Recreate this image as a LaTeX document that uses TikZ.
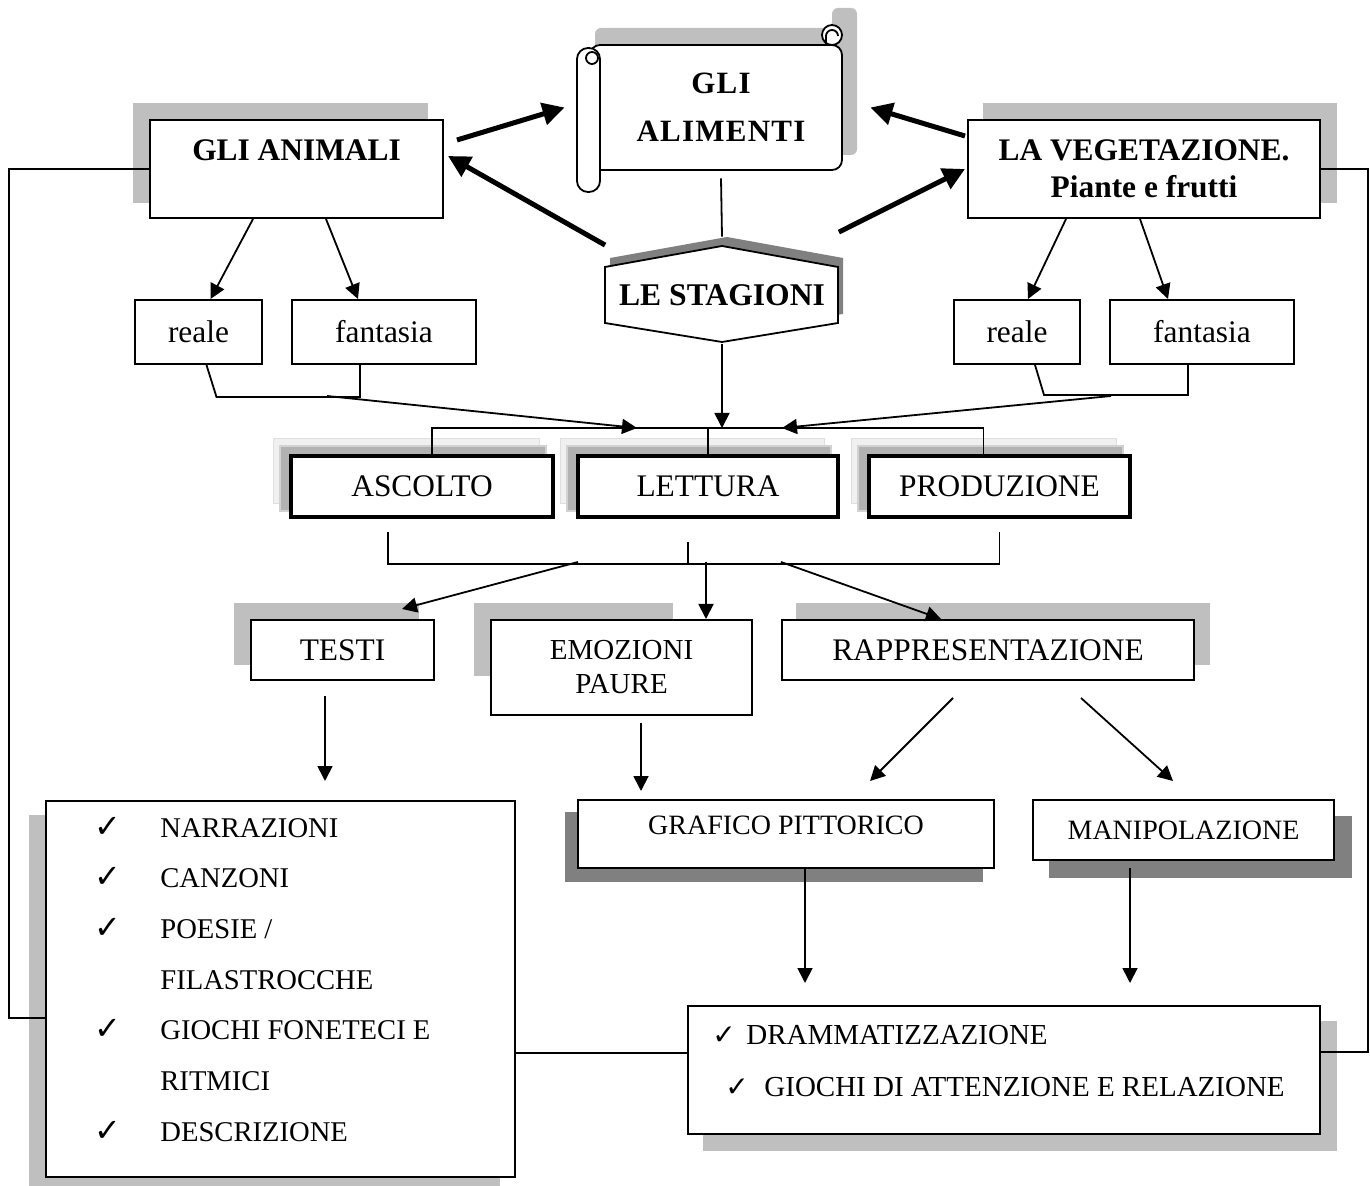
\documentclass[tikz,border=0pt]{standalone}
\usepackage{fontspec}
\setmainfont{Liberation Serif}
\newfontfamily\ckfont{DejaVu Sans}
\usetikzlibrary{arrows.meta,backgrounds,positioning}
\newcommand\chk[1][16]{{\ckfont\fontsize{#1}{#1}\selectfont ✓}}
\begin{document}
\begin{tikzpicture}[x=0.5pt,y=-0.5pt,
  box/.style={draw,line width=1pt,fill=white,inner sep=2pt,align=center,font=\fontsize{15.7}{18.5}\selectfont},
  bbox/.style={box,font=\bfseries\fontsize{15.7}{18.5}\selectfont},
  tbox/.style={box,line width=2pt},
  ln/.style={line width=0.9pt},
  arr/.style={ln,-{Triangle[length=7.5pt,width=7.5pt]}},
  fat/.style={line width=2.5pt,-{Triangle[length=11pt,width=11pt]}},
  shd/.style={fill=gray!50},
  dshd/.style={fill=gray}]
\useasboundingbox (0,0) rectangle (1370,1186);
% scroll
\fill[shd,rounded corners=3pt] (595,155) -- (595,28) -- (832,28) -- (832,8) -- (857,8) -- (857,155) -- cycle;
\draw[ln,fill=white,rounded corners=5pt] (590,45) -- (842,45) -- (842,170) -- (590,170) -- cycle;
\draw[ln,fill=white] (832,35) circle (5pt);
\draw[ln] (826,45) -- (826,36) arc[start angle=180,end angle=0,radius=3pt];
\draw[ln,fill=white,rounded corners=5.5pt] (577,48) rectangle (600,192);
\draw[ln] (592,58) circle (3pt);
\node(AL)[minimum width=121pt,minimum height=62.5pt,align=center,font=\bfseries\fontsize{15.5}{24}\selectfont\addfontfeature{LetterSpace=4}] at (721,107.5) {GLI\\ALIMENTI};
% hexagon
\fill[dshd] (727,237) -- (843,258) -- (843,314) -- (727,333) -- (610,314) -- (610,258) -- cycle;
\draw[ln,fill=white] (722,246) -- (838,267) -- (838,323) -- (722,342) -- (605,323) -- (605,267) -- cycle;
\node(ST)[font=\bfseries\fontsize{15.8}{18}\selectfont,minimum width=116.5pt,minimum height=48pt,inner sep=0pt] at (722,295.5) {LE STAGIONI};
\draw[ln] ([yshift=-4pt]AL.south) -- ([yshift=5.25pt]ST.north);
% top row
\node(AN)[bbox,minimum width=146.5pt,minimum height=49pt] at (296.5,169) {GLI ANIMALI\\\mbox{}};
\node(VG)[bbox,minimum width=176pt,minimum height=49pt] at (1144,169) {LA VEGETAZIONE.\\Piante e frutti};
\node(AR)[box,minimum width=63.5pt,minimum height=32pt] at (198.5,332) {reale};
\node(AF)[box,minimum width=92pt,minimum height=32pt,right=14pt of AR] {fantasia};
\node(VR)[box,minimum width=63pt,minimum height=32pt] at (1017,332) {reale};
\node(VF)[box,minimum width=92pt,minimum height=32pt,right=14pt of VR] {fantasia};
% middle rows
\node(AS)[tbox,minimum width=131pt,minimum height=30.5pt] at (422,486.5) {ASCOLTO};
\node(LE)[tbox,minimum width=130pt,minimum height=30.5pt,right=10.5pt of AS] {LETTURA};
\node(PR)[tbox,minimum width=130.5pt,minimum height=30.5pt,right=13.5pt of LE] {PRODUZIONE};
\node(TE)[box,minimum width=91.5pt,minimum height=30pt] at (342.5,650) {TESTI};
\node(EM)[box,minimum width=130.5pt,minimum height=47.5pt,font=\fontsize{14.5}{17}\selectfont] at (621.5,667.5) {EMOZIONI\\PAURE};
\node(RA)[box,minimum width=206pt,minimum height=30pt] at (988,650) {RAPPRESENTAZIONE};
\node(GP)[box,minimum width=208pt,minimum height=34pt,text depth=9pt,font=\fontsize{14}{17}\selectfont] at (786,834) {GRAFICO PITTORICO};
\node(MA)[box,minimum width=150.5pt,minimum height=30pt,font=\fontsize{14}{17}\selectfont] at (1183.5,830) {MANIPOLAZIONE};
% bottom boxes
\node(LI)[box,minimum width=234.5pt,minimum height=188pt] at (280.5,989) {};
\node(DR)[box,minimum width=316pt,minimum height=64pt] at (1004,1070) {};
\node(LIt)[anchor=base west,inner sep=0pt,font=\fontsize{14.3}{25.35}\selectfont] at (86,837) {\begin{tabular}[t]{@{}p{37pt}@{}l@{}}
\hspace*{4pt}\chk & NARRAZIONI\\
\hspace*{4pt}\chk & CANZONI\\
\hspace*{4pt}\chk & POESIE /\\
 & FILASTROCCHE\\
\hspace*{4pt}\chk & GIOCHI FONETECI E\\
 & RITMICI\\
\hspace*{4pt}\chk & DESCRIZIONE
\end{tabular}};
\node(DRt)[anchor=base west,inner sep=0pt,font=\fontsize{14.5}{26}\selectfont] at (712,1044) {\begin{tabular}[t]{@{}l@{}}
\makebox[17pt][l]{\chk[14]}DRAMMATIZZAZIONE\\
\hspace*{6.5pt}\makebox[19.5pt][l]{\chk[14]}GIOCHI DI ATTENZIONE E RELAZIONE
\end{tabular}};
% shadows
\begin{scope}[on background layer]
\fill[shd] ([shift={(-8pt,8pt)}]AN.south west) rectangle ([shift={(-8pt,8pt)}]AN.north east);
\fill[shd] ([shift={(8pt,8pt)}]VG.south west) rectangle ([shift={(8pt,8pt)}]VG.north east);
\foreach \n in {AS,LE,PR}{
  \filldraw[fill=gray!12,draw=gray!25] ([shift={(-8pt,8pt)}]\n.south west) rectangle ([shift={(-8pt,8pt)}]\n.north east);
  \filldraw[fill=gray!60,draw=gray!35,line width=1pt] ([shift={(-4.5pt,4pt)}]\n.south west) rectangle ([shift={(-4.5pt,4pt)}]\n.north east);
}
\fill[shd] ([shift={(-8pt,8pt)}]TE.south west) rectangle ([shift={(-8pt,8pt)}]TE.north east);
\fill[shd] ([shift={(-8pt,8pt)}]EM.north west) rectangle ([shift={(-40pt,20pt)}]EM.south east);
\fill[shd] ([shift={(7.5pt,8pt)}]RA.south west) rectangle ([shift={(7.5pt,8pt)}]RA.north east);
\fill[dshd] ([shift={(-6pt,-6.5pt)}]GP.south west) rectangle ([shift={(-6pt,-6.5pt)}]GP.north east);
\fill[dshd] ([shift={(8.5pt,-8.5pt)}]MA.south west) rectangle ([shift={(8.5pt,-8.5pt)}]MA.north east);
\fill[shd] ([shift={(-8pt,-7.5pt)}]LI.south west) rectangle ([shift={(-8pt,-7.5pt)}]LI.north east);
\fill[shd] ([shift={(8pt,-8pt)}]DR.south west) rectangle ([shift={(8pt,-8pt)}]DR.north east);
\end{scope}
% thick arrows
\draw[fat] ([yshift=1pt]ST.north west) -- ([shift={(2pt,6.5pt)}]AN.east);
\draw[fat] ([yshift=7.5pt]ST.north east) -- ([xshift=-1pt]VG.west);
\draw[fat] ([shift={(6.5pt,-10.5pt)}]AN.north east) -- ([xshift=-17.5pt]AL.west);
\draw[fat] ([shift={(-1pt,-8.5pt)}]VG.north west) -- ([xshift=14pt]AL.east);
% side loops
\draw[ln] (AN.west) -- ++(-140,0) |- ([yshift=-14.5pt]LI.west);
\draw[ln] (VG.east) -- ++(47,0) |- ([yshift=9pt]DR.east);
\draw[ln] ([yshift=-32pt]LI.east) -- ([yshift=-32pt]LI.east -| DR.west);
% reale / fantasia
\draw[arr] ([xshift=-21.75pt]AN.south) -- ([xshift=6pt]AR.north);
\draw[arr] ([xshift=14.75pt]AN.south) -- ([xshift=-13pt]AF.north);
\draw[arr] ([xshift=-39pt]VG.south) -- ([xshift=5.5pt]VR.north);
\draw[arr] ([xshift=-2pt]VG.south) -- ([xshift=-17pt]VF.north);
\draw[ln] ([xshift=4pt]AR.south) -- ++(10,32) -| ([xshift=-12pt]AF.south);
\draw[ln] ([xshift=9pt]VR.south) -- ++(9,30) -| ([xshift=-7pt]VF.south);
\coordinate(AB) at (327,396);
\coordinate(VB) at (1111,396);
\draw[arr] (AB) -- ([shift={(-35.5pt,13pt)}]LE.north);
\draw[arr] (VB) -- ([shift={(37pt,13pt)}]LE.north);
\draw[arr] (ST.south) -- ([yshift=13pt]LE.north -| ST.south);
% brackets round the middle row
\draw[ln] ([xshift=5pt]AS.north) -- ++(0,-26) -| ([xshift=-8pt]PR.north);
\draw[ln] (LE.north) -- ++(0,-26);
\draw[ln] ([shift={(-17pt,-6.5pt)}]AS.south) -- ++(0,32) -| ([yshift=-6.5pt]PR.south);
\draw[ln] ([shift={(-10pt,-11.5pt)}]LE.south) -- ++(0,22);
\coordinate(C1) at (578,562);
\coordinate(C2) at (706,562);
\coordinate(C3) at (781,562);
\draw[arr] (C1) -- ([shift={(-16.5pt,5pt)}]TE.north east);
\draw[arr] (C2) -- (C2 |- EM.north);
\draw[arr] (C3) -- ([xshift=-23.5pt]RA.north);
% lower arrows
\draw[arr] ([shift={(-8.75pt,-7.5pt)}]TE.south) -- ++(0,85);
\draw[arr] ([shift={(9.75pt,-3.5pt)}]EM.south) -- ++(0,68);
\draw[arr] ([shift={(-17.5pt,-8.5pt)}]RA.south) -- ++(-83,83);
\draw[arr] ([shift={(46.5pt,-8.5pt)}]RA.south) -- ++(92,83);
\draw[arr] ([xshift=9.5pt]GP.south) -- ++(0,114);
\draw[arr] ([shift={(-26.75pt,-3.5pt)}]MA.south) -- ++(0,115);
\end{tikzpicture}
\end{document}
